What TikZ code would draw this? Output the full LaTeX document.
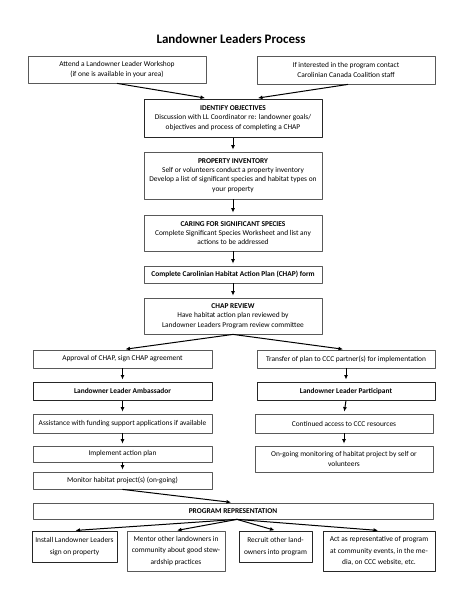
\documentclass[tikz,border=0pt]{standalone}
\usepackage{fontspec}
\setmainfont{Carlito}
\usetikzlibrary{arrows.meta}

\begin{document}
\begin{tikzpicture}[x=1pt, y=-1pt, line join=round,
  box/.style={draw=black!65, line width=0.8pt, inner sep=0pt, align=center,
    font=\fontsize{7.4}{9.3}\selectfont},
  hbox/.style={box, draw=black!85, line width=1pt},
  lowbox/.style={font=\fontsize{7.4}{11.3}\selectfont},
  arr/.style={-{Latex[length=4.5pt,width=4pt]}, line width=1pt, shorten >=2pt}]

  %% ════ title ════
  \node[font=\fontsize{13}{15}\selectfont\bfseries] (title) at (231,39) {Landowner Leaders Process};

  %% ════ entry ════
  \node[box, minimum width=178pt, minimum height=27pt] (work) at (117,69.5)
    {Attend a Landowner Leader Workshop\\(if one is available in your area)};
  \node[box, minimum width=178pt, minimum height=28pt] (contact) at (346,70)
    {If interested in the program contact\\Carolinian Canada Coalition staff};

  %% ════ middle column ════
  \node[hbox, minimum width=178pt, minimum height=38pt] (ident) at (233,118)
    {\textbf{IDENTIFY OBJECTIVES}\\Discussion with LL Coordinator re: landowner goals/\\objectives and process of completing a CHAP};
  \node[box, minimum width=178pt, minimum height=47pt] (invent) at (233,175.5)
    {\textbf{PROPERTY INVENTORY}\\Self or volunteers conduct a property inventory\\Develop a list of significant species and habitat types on\\your property};
  \node[box, minimum width=178pt, minimum height=36pt] (caring) at (233,233)
    {\textbf{CARING FOR SIGNIFICANT SPECIES}\\Complete Significant Species Worksheet and list any\\actions to be addressed};
  \node[box, minimum width=178pt, minimum height=17pt] (chap) at (233,274.5)
    {\textbf{Complete Carolinian Habitat Action Plan (CHAP) form}};
  \node[box, minimum width=178pt, minimum height=36pt] (review) at (233,316)
    {\textbf{CHAP REVIEW}\\Have habitat action plan reviewed by\\Landowner Leaders Program review committee};

  %% ════ left branch ════
  \node[box, minimum width=179pt, minimum height=18pt] (approve) at (122.5,359)
    {Approval of CHAP, sign CHAP agreement};
  \node[hbox, minimum width=179pt, minimum height=18pt] (amb) at (122.5,391)
    {\textbf{Landowner Leader Ambassador}};
  \node[box, minimum width=179pt, minimum height=19pt] (assist) at (122.5,423.5)
    {Assistance with funding support applications if available};
  \node[box, minimum width=179pt, minimum height=16pt] (impl) at (122.5,454)
    {Implement action plan};
  \node[box, minimum width=179pt, minimum height=17pt] (monproj) at (122.5,480.5)
    {Monitor habitat project(s) (on-going)};

  %% ════ right branch ════
  \node[box, minimum width=178pt, minimum height=18pt] (transfer) at (346,359)
    {Transfer of plan to CCC partner(s) for implementation};
  \node[hbox, minimum width=178pt, minimum height=18pt] (part) at (346,391)
    {\textbf{Landowner Leader Participant}};
  \node[box, minimum width=178pt, minimum height=19pt] (access) at (344,423.5)
    {Continued access to CCC resources};
  \node[box, minimum width=178pt, minimum height=26pt] (monit) at (344,459)
    {On-going monitoring of habitat project by self or\\volunteers};

  %% ════ representation ════
  \node[box, minimum width=400pt, minimum height=16pt] (progrep) at (233,511)
    {\textbf{PROGRAM REPRESENTATION}};
  \node[hbox, lowbox, minimum width=85pt, minimum height=31pt] (sign) at (74.5,546.5)
    {Install Landowner Leaders\\sign on property};
  \node[box, lowbox, minimum width=98pt, minimum height=40pt] (mentor) at (176,551)
    {Mentor other landowners in\\community about good stew-\\ardship practices};
  \node[hbox, lowbox, minimum width=73pt, minimum height=31pt] (recruit) at (275.5,546.5)
    {Recruit other land-\\owners into program};
  \node[hbox, lowbox, minimum width=112pt, minimum height=40pt] (rep) at (379,551)
    {Act as representative of program\\at community events, in the me-\\dia, on CCC website, etc.};

  %% ════ arrows ════
  \draw[arr, shorten >=3pt] (work.south) -- ([xshift=-25pt]ident.north);
  \draw[arr, shorten >=3pt] ([xshift=2pt]contact.south) -- ([xshift=22pt]ident.north);
  \draw[arr] (ident.south) -- (invent.north);
  \draw[arr] (invent.south) -- (caring.north);
  \draw[arr] (caring.south) -- (chap.north);
  \draw[arr] (chap.south) -- (review.north);
  \draw[arr, shorten >=3pt] (review.south) -- (approve.north);
  \draw[arr, shorten >=3pt] (review.south) -- (transfer.north);
  \draw[arr] (approve.south) -- (amb.north);
  \draw[arr] (transfer.south) -- (part.north);
  \draw[arr] (amb.south) -- (assist.north);
  \draw[arr] (part.south) -- (access.north);
  \draw[arr] (assist.south) -- (impl.north);
  \draw[arr] (access.south) -- (monit.north);
  \draw[arr] (impl.south) -- (monproj.north);
  \draw[arr] (monproj.south) -- (progrep.north);
  \foreach \n in {sign,mentor,recruit,rep}
    \draw[arr, shorten >=1pt] ([xshift=4pt]progrep.south) -- (\n.north);

  %% fix canvas
  \pgfresetboundingbox
  \path[use as bounding box] (0,0) rectangle (463,600);
\end{tikzpicture}
\end{document}
